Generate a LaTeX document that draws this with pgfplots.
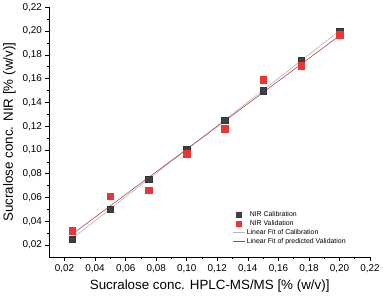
\documentclass[border=0pt]{standalone}
\usepackage{pgfplots}
\pgfplotsset{compat=1.18}
\usepackage{fontspec}
\setmainfont{Liberation Sans}
\definecolor{calib}{HTML}{404040}
\definecolor{valid}{HTML}{EE3333}
\definecolor{fitcal}{HTML}{B4B4B4}
\definecolor{fitval}{HTML}{B04545}
\pgfplotsset{
  calleg/.style={legend image code/.code={\draw[fitcal, line width=0.6pt] (0pt,0pt) -- (12pt,0pt);}},
  valleg/.style={legend image code/.code={\draw[fitval, line width=0.6pt] (0pt,0pt) -- (12pt,0pt);}},
  mkleg/.style={legend image code/.code={\fill[#1] (3.5pt,-2.7pt) rectangle (8.9pt,2.7pt);}},
}
\begin{document}
\begin{tikzpicture}
\begin{axis}[
  scale only axis,
  width=324pt, height=252pt,
  xmin=0.01, xmax=0.22, ymin=0.01, ymax=0.22,
  axis lines*=left,
  axis line style={black, line width=0.6pt},
  xtick={0.02,0.04,...,0.221}, ytick={0.02,0.04,...,0.221},
  minor tick num=1,
  tick align=outside,
  major tick length=4pt, minor tick length=2pt,
  every tick/.style={black, line width=0.6pt},
  /pgf/number format/.cd, use comma, fixed, fixed zerofill, precision=2, assume math mode=true,
  /pgfplots/.cd,
  tick label style={font=\fontsize{10}{12}\selectfont},
  label style={font=\fontsize{13.5}{15}\selectfont},
  xlabel={Sucralose conc. HPLC-MS/MS [\% (w/v)]},
  ylabel={Sucralose conc. NIR [\% (w/v)]},
  xlabel style={yshift=-1pt},
  legend style={at={(0.57,0.19)}, anchor=north west, draw=none, fill=none,
    font=\fontsize{7}{7}\selectfont, row sep=-1.6pt, inner sep=0pt,
    /tikz/every even column/.append style={column sep=1pt}},
  legend cell align=left,
]
\addplot[only marks, mark=square*, mark size=3.3pt, draw=calib!80!black, fill=calib, mkleg=calib] coordinates {
(0.025,0.025) (0.05,0.050) (0.075,0.0755) (0.10,0.100) (0.125,0.125) (0.15,0.150) (0.175,0.175) (0.20,0.200)};
\addlegendentry{\hspace{3pt}NIR Calibration}
\addplot[only marks, mark=square*, mark size=3.3pt, color=valid, mkleg=valid] coordinates {
(0.025,0.032) (0.05,0.061) (0.075,0.066) (0.10,0.097) (0.125,0.118) (0.15,0.159) (0.175,0.171) (0.20,0.197)};
\addlegendentry{\hspace{3pt}NIR Validation}
\addplot[fitcal, line width=0.6pt, calleg] coordinates {(0.025,0.0255) (0.20,0.2003)};
\addlegendentry{Linear Fit of Calibration}
\addplot[fitval, line width=0.6pt, valleg] coordinates {(0.025,0.0291) (0.20,0.1962)};
\addlegendentry{Linear Fit of predicted Validation}
\end{axis}
\end{tikzpicture}
\end{document}
